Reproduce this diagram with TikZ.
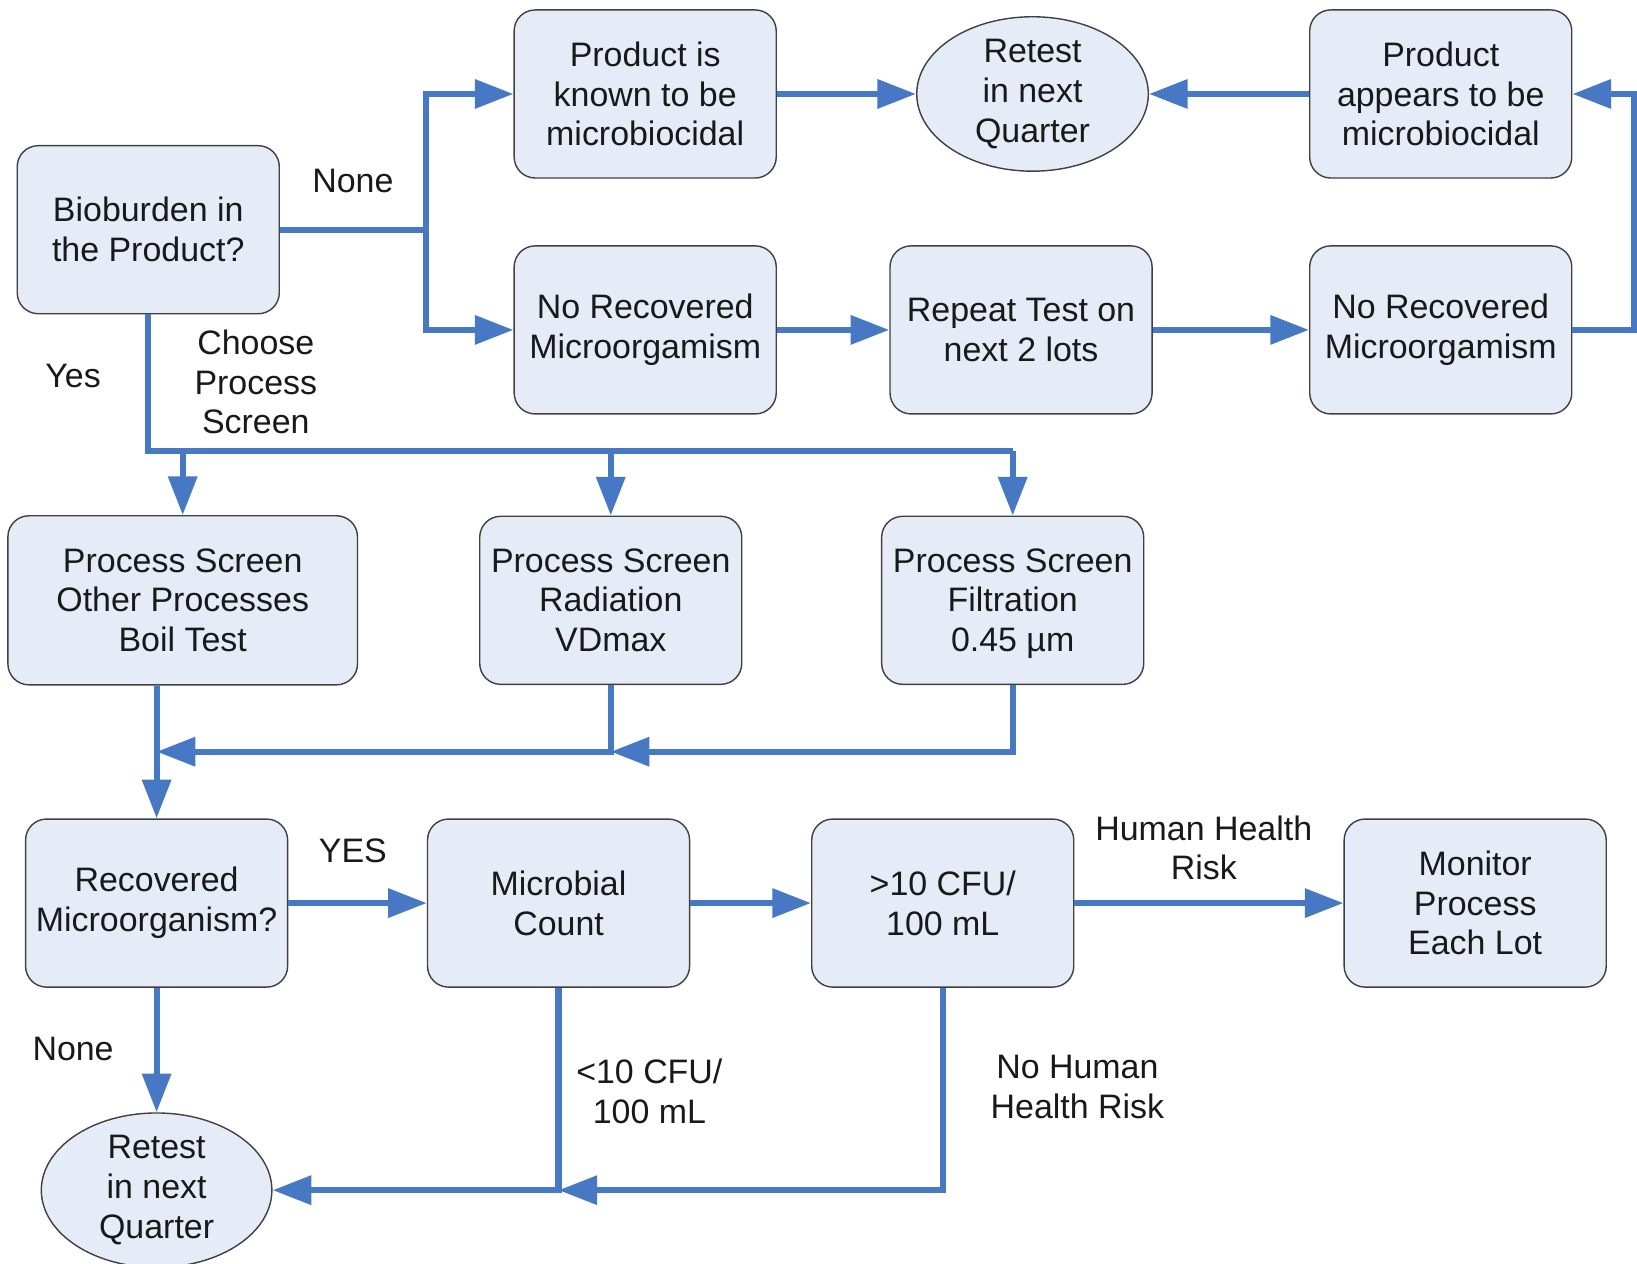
\documentclass[tikz,border=0pt]{standalone}
\usepackage{fontspec}
\setmainfont{Liberation Sans}
\usetikzlibrary{arrows.meta,shapes.geometric}
\definecolor{fillc}{RGB}{230,236,247}
\definecolor{linec}{RGB}{70,120,195}
\definecolor{bordc}{RGB}{64,64,64}
\begin{document}
\begin{tikzpicture}[x=0.02088cm,y=-0.02088cm,
 every node/.style={font=\fontsize{19.3}{22.6}\selectfont, align=center, text=black!90},
 box/.style={draw=bordc, line width=0.8pt, fill=fillc, rounded corners=0.42cm, minimum width=5.24cm, minimum height=3.36cm, inner sep=0pt},
 widebox/.style={box, minimum width=6.99cm, minimum height=3.38cm},
 oval/.style={ellipse, draw=bordc, line width=0.8pt, fill=fillc, minimum width=4.63cm, minimum height=2.95cm, inner sep=0pt},
 conn/.style={draw=linec, line width=3.5pt},
 arr/.style={conn, -{Triangle[length=22pt,width=16pt]}},
 lbl/.style={inner sep=0pt}]
\useasboundingbox (0,0) rectangle (1568,1210);
% nodes
\node[box] (bio) at (142,220) {Bioburden in\\the Product?};
\node[box] (known) at (618,90) {Product is\\known to be\\microbiocidal};
\node[oval] (ret1) at (989,90) {Retest\\in next\\Quarter};
\node[box] (appears) at (1380,90) {Product\\appears to be\\microbiocidal};
\node[box] (norec1) at (618,316) {No Recovered\\Microorgamism};
\node[box] (repeat) at (978,316) {Repeat Test on\\next 2 lots};
\node[box] (norec2) at (1380,316) {No Recovered\\Microorgamism};
\node[widebox] (other) at (175,575) {Process Screen\\Other Processes\\Boil Test};
\node[box] (rad) at (585,575) {Process Screen\\Radiation\\VDmax};
\node[box] (filt) at (970,575) {Process Screen\\Filtration\\0.45 \smash{µ}m};
\node[box] (rec) at (150,865) {Recovered\\Microorganism?};
\node[box] (mc) at (535,865) {Microbial\\Count};
\node[box] (cfu) at (903,865) {>10 CFU/\\100 mL};
\node[box] (mon) at (1413,865) {Monitor\\Process\\Each Lot};
\node[oval, minimum width=4.61cm, minimum height=2.92cm] (ret2) at (150,1140) {Retest\\in next\\Quarter};
% labels
\node[lbl] (lnone1) at (338,173) {None};
\node[lbl] (lyes) at (70,360) {Yes};
\node[lbl] (lchoose) at (245,366) {Choose\\Process\\Screen};
\node[lbl] (lYES) at (338,815) {YES};
\node[lbl] (lhhr) at (1153,812) {Human Health\\Risk};
\node[lbl] (lnone2) at (70,1005) {None};
\node[lbl] (llt) at (622,1045) {<10 CFU/\\100 mL};
\node[lbl] (lnhhr) at (1032,1041) {No Human\\Health Risk};
% coordinates
\coordinate (j1) at (408,220);
\coordinate (j2) at (142,432);
\coordinate (m1) at (150,720);
% connectors top
\draw[conn] (bio.east) -- (j1);
\draw[arr] (j1) |- (known.west);
\draw[arr] (j1) |- (norec1.west);
\draw[arr] (known.east) -- (ret1.west);
\draw[arr] (appears.west) -- (ret1.east);
\draw[arr] (norec1.east) -- (repeat.west);
\draw[arr] (repeat.east) -- (norec2.west);
\draw[arr] (norec2.east) -- ++(59,0) |- (appears.east);
% process screens
\draw[conn] (bio.south) -- (j2) -- (filt.north |- j2);
\draw[arr] (other.north |- j2) -- (other.north);
\draw[arr] (rad.north |- j2) -- (rad.north);
\draw[arr] (filt.north |- j2) -- (filt.north);
\draw[arr] (rec.north |- other.south) -- (rec.north);
\draw[arr] (rad.south) |- (m1);
\draw[arr] (filt.south) |- (rad.south |- m1);
% bottom row
\draw[arr] (rec.east) -- (mc.west);
\draw[arr] (mc.east) -- (cfu.west);
\draw[arr] (cfu.east) -- (mon.west);
\draw[arr] (rec.south) -- (ret2.north);
\draw[arr] (mc.south) |- (ret2.east);
\draw[arr] (cfu.south) |- (mc.south |- ret2.east);
\end{tikzpicture}
\end{document}
